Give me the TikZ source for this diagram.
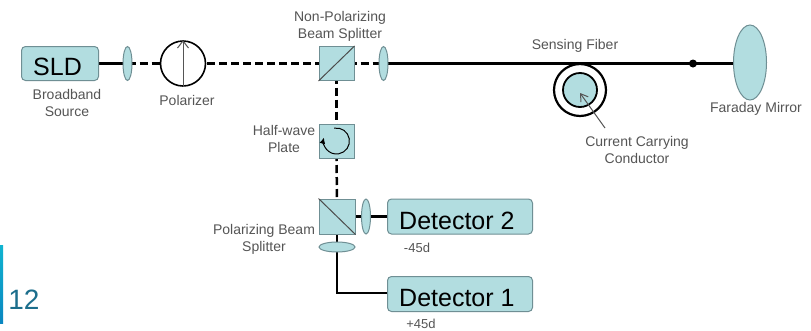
\documentclass[tikz,border=0pt]{standalone}
\usepackage{fontspec}
\setmainfont{Liberation Sans}
\usetikzlibrary{shapes.geometric,arrows.meta}
\definecolor{fillc}{HTML}{B2DDE0}
\definecolor{edgec}{HTML}{6F8F94}
\definecolor{labc}{HTML}{555555}
\definecolor{numc}{HTML}{1C6E8C}
\definecolor{bartop}{HTML}{10B4D0}
\definecolor{barbot}{HTML}{0A86C0}
\tikzset{
 comp/.style={draw=edgec,fill=fillc,line width=1pt,inner sep=0pt},
 rbox/.style={comp,rounded corners=4pt,minimum height=35pt,text=black,font=\fontsize{25}{28}\selectfont},
 sqbox/.style={comp,minimum width=35pt,minimum height=34pt},
 lens/.style={comp,ellipse,minimum width=9pt,minimum height=34pt},
 lab/.style={text=labc,font=\fontsize{14}{17}\selectfont,align=center,inner sep=0pt},
 smalllab/.style={lab,font=\fontsize{13}{15}\selectfont},
 bigtext/.style={inner sep=0pt,text=black,font=\fontsize{25}{28}\selectfont,anchor=west},
 dashbeam/.style={line width=2.5pt,black,dash pattern=on 8pt off 4pt},
 solidbeam/.style={line width=2.5pt,black},
}
\begin{document}
\begin{tikzpicture}[x=1pt,y=-1pt]
\useasboundingbox (0,0) rectangle (811,330);
\fill[white] (0,0) rectangle (811,330);
\coordinate (corner) at (337,293);
\coordinate (ltip) at (605,128);
\coordinate (larr) at (580,93);
\coordinate (csld) at (98,63.5);
\coordinate (cl1) at (127.5,63.5);
\coordinate (cpol) at (183,63.5);
\coordinate (cbs) at (336.5,63.5);
\coordinate (cl2) at (383.5,63.5);
\coordinate (cfm) at (750,63.5);
\coordinate (chwp) at (336.5,141);
\coordinate (cpbs) at (337,216.5);
\coordinate (cl3) at (366,216.5);
\coordinate (cl4) at (337,247);
\coordinate (cd2) at (389,216.5);
\coordinate (cd1) at (389,293);
% beams first, components on top
\draw[solidbeam] (csld) -- (cl1);
\draw[dashbeam] (cl1) -- (cpol);
\draw[dashbeam] (cpol) -- (cbs);
\draw[dashbeam] (cbs) -- (cl2);
\draw[solidbeam] (cl2) -- (cfm);
\draw[dashbeam] (cbs) -- (chwp);
\draw[dashbeam] (chwp) -- (cpbs);
\draw[solidbeam] (cpbs) -- (cd2);
\draw[solidbeam] (cpbs) -- (cl4);
\draw[solidbeam] (cl4) -- (corner) -- (cd1);
% components
\node[rbox,minimum width=77pt,minimum height=34pt] (sld) at (60,63.5) {};
\node[bigtext] (sldt) at (33,67) {SLD};
\node[lens] (l1) at (cl1) {};
\node[circle,draw=black,line width=1.6pt,fill=white,minimum size=45pt,inner sep=0pt] (pol) at (cpol) {};
\node[sqbox] (bs) at (cbs) {};
\node[lens] (l2) at (cl2) {};
\node[sqbox] (hwp) at (chwp) {};
\node[sqbox,minimum height=35pt,minimum width=36pt] (pbs) at (cpbs) {};
\node[lens,minimum height=35pt] (l3) at (cl3) {};
\node[comp,ellipse,minimum width=36pt,minimum height=10pt] (l4) at (cl4) {};
\node[rbox,minimum width=145pt] (d2) at (460,216.5) {};
\node[bigtext] (d2t) at (399,221) {Detector 2};
\node[rbox,minimum width=145pt] (d1) at (460,294) {};
\node[bigtext] (d1t) at (399,298) {Detector 1};
\node[comp,ellipse,minimum width=33pt,minimum height=75pt] (fm) at (750,62.5) {};
\node[circle,fill=black,minimum size=8pt,inner sep=0pt] (dot) at (693,63.5) {};
\node[circle,draw=black,line width=2.2pt,minimum size=52pt,inner sep=0pt] (outer) at (580,90) {};
\node[circle,draw=black,line width=1.8pt,fill=fillc,minimum size=34pt,inner sep=0pt] (inner) at (580,90) {};
% inner drawings
\draw[black!70,line width=1pt] (bs.south west) -- (bs.north east);
\draw[black!70,line width=1pt] (pbs.north west) -- (pbs.south east);
\draw[labc,line width=1pt,-{Straight Barb[length=7pt,width=11pt]}] (pol.south) -- (pol.north);
\draw[black,line width=1pt,-{Latex[length=6pt,width=6pt]}] (hwp.center) ++(-2.3,-12.8) arc[start angle=-100,end angle=195,radius=13];
\draw[labc,line width=1pt,-{Straight Barb[length=7pt,width=9pt]}] (ltip) -- (larr);
% labels
\node[lab] (t1) at (67,103) {Broadband\\Source};
\node[lab] (t2) at (187,100) {Polarizer};
\node[lab] (t3) at (340,26) {Non-Polarizing\\Beam Splitter};
\node[lab] (t4) at (284,139) {Half-wave\\Plate};
\node[lab] (t5) at (264,239) {Polarizing Beam\\Splitter};
\node[lab] (t6) at (575,46) {Sensing Fiber};
\node[lab] (t7) at (637,150) {Current Carrying\\Conductor};
\node[lab] (t8) at (756,109) {Faraday Mirror};
\node[smalllab] (t9) at (417,248) {-45d};
\node[smalllab] (t11) at (421,324) {+45d};
\fill[top color=bartop,bottom color=barbot] (0,245) rectangle (3,323);
\node[text=numc,font=\fontsize{28}{30}\selectfont,inner sep=0pt] (num) at (24,300) {12};
\end{tikzpicture}
\end{document}
